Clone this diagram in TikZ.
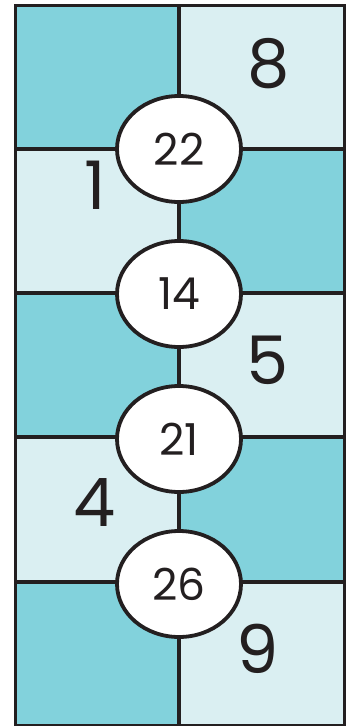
\documentclass[tikz,border=0pt]{standalone}
\usepackage{fontspec}
\setmainfont{Poppins}
\definecolor{dk}{HTML}{82D2DC}
\definecolor{lt}{HTML}{DAEFF2}
\definecolor{ln}{HTML}{231F20}
\tikzset{
  grid/.style={draw=ln, line width=3.5pt},
  oval/.style={ellipse, draw=ln, line width=3.8pt, fill=white, minimum width=124pt, minimum height=106pt, inner sep=0pt, font=\fontsize{44}{44}\selectfont, text=ln},
  big/.style={inner sep=0pt, font=\fontsize{67}{67}\selectfont, text=ln}
}
\usetikzlibrary{shapes.geometric}
\begin{document}
\begin{tikzpicture}[x=1pt,y=-1pt]
\useasboundingbox (0,0) rectangle (359,726);
% cells
\fill[dk] (15,5) rectangle (179,149);
\fill[lt] (179,5) rectangle (344,149);
\fill[lt] (15,149) rectangle (179,293);
\fill[dk] (179,149) rectangle (344,293);
\fill[dk] (15,293) rectangle (179,437);
\fill[lt] (179,293) rectangle (344,437);
\fill[lt] (15,437) rectangle (179,582);
\fill[dk] (179,437) rectangle (344,582);
\fill[dk] (15,582) rectangle (179,725);
\fill[lt] (179,582) rectangle (344,725);
% grid
\draw[grid] (15,149) -- (344,149);
\draw[grid] (15,293) -- (344,293);
\draw[grid] (15,437) -- (344,437);
\draw[grid] (15,582) -- (344,582);
\draw[grid] (179,5) -- (179,725);
\draw[draw=ln, line width=3pt] (15,5) rectangle (344,725);
% ovals
\node[oval] (a) at (179,149) {22};
\node[oval] (b) at (179,294) {14};
\node[oval] (c) at (179,439) {21};
\node[oval] (d) at (179,584) {26};
% labels
\node[big] (n8) at (269,64) {8};
\node[big] (n1) at (95,185) {1};
\node[big] (n5) at (268,360) {5};
\node[big] (n4) at (95,503) {4};
\node[big] (n9) at (258,649) {9};
\end{tikzpicture}
\end{document}
